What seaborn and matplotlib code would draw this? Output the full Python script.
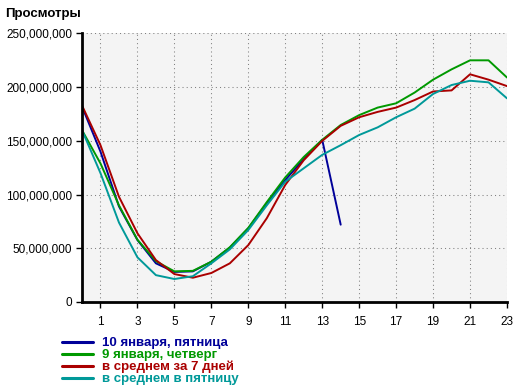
"""Hourly views chart: today vs yesterday vs averages."""

import matplotlib
matplotlib.use("Agg")
import matplotlib.pyplot as plt
import matplotlib.ticker as mticker
import numpy as np
import pandas as pd
import seaborn as sns

# values in millions of views, hour 0..23
hours = list(range(24))
jan10_fri = [182, 140, 89, 57.7, 36, 28, 28.5, 37.5, 50.6, 68.6, 92, 113.6,
             133, 151, 72]
jan9_thu = [160, 129, 90, 58, 38, 28.5, 29, 37.5, 51, 69, 93, 116, 135, 151,
            164.8, 174, 181, 185, 195, 207, 216.6, 225, 225, 209]
avg_7days = [183, 146, 98, 64, 39, 26, 22.6, 27, 36, 53, 78, 109, 132, 150,
             164, 172, 177, 181, 188, 196, 197, 212, 207, 201]
avg_friday = [160, 120, 74, 41.6, 25, 21.4, 24, 36, 49, 67, 90, 112, 124.5,
              137, 146, 155.5, 162.6, 172, 180, 193.7, 202, 206, 204.5, 189.6]

labels = ["10 января, пятница", "9 января, четверг",
          "в среднем за 7 дней", "в среднем в пятницу"]
colors = ["#000099", "#009900", "#aa0000", "#009999"]
x_ticks = list(range(1, 24, 2))
y_ticks = [0, 50e6, 100e6, 150e6, 200e6, 250e6]

frames = []
for name, vals in zip(labels, [jan10_fri, jan9_thu, avg_7days, avg_friday]):
    frames.append(pd.DataFrame({
        "hour": hours[:len(vals)],
        "views": np.array(vals) * 1e6,
        "series": name,
    }))
df = pd.concat(frames, ignore_index=True)

sns.set_style("white")
plt.rcParams["font.family"] = ["Liberation Sans", "DejaVu Sans"]
plt.rcParams["text.color"] = "black"
plt.rcParams["xtick.color"] = "black"
plt.rcParams["ytick.color"] = "black"

fig = plt.figure(figsize=(5.2, 3.92), dpi=100)
ax = fig.add_axes([0.1577, 0.2296, 0.8173, 0.685])
ax.set_facecolor("#f4f4f4")

sns.lineplot(data=df, x="hour", y="views", hue="series", hue_order=labels,
             palette=colors, linewidth=1.4, ax=ax, legend=True)

ax.set_xlim(0, 23)
ax.set_ylim(0, 250e6)
ax.set_xticks(x_ticks)
ax.set_yticks(y_ticks)
ax.yaxis.set_major_formatter(mticker.FuncFormatter(lambda v, _: f"{int(v):,}"))
ax.grid(True, color="#808080", linestyle=(0, (1, 3)), linewidth=0.75)
ax.set_xlabel("")
ax.set_ylabel("")

for side in ["top", "right"]:
    ax.spines[side].set_visible(False)
for side in ["left", "bottom"]:
    ax.spines[side].set_linewidth(2)
    ax.spines[side].set_color("black")
ax.tick_params(axis="both", direction="out", length=4, width=1, color="black",
               labelcolor="black", labelsize=8.5, pad=3, left=True, bottom=True)
ax.tick_params(axis="x", pad=6)

fig.text(0.01, 0.965, "Просмотры", fontsize=9.5, fontweight="bold",
         color="black", va="center", ha="left")

leg = ax.legend(loc="upper left", bbox_to_anchor=(0.107, 0.157),
                bbox_transform=fig.transFigure, frameon=False,
                handlelength=2.3, handletextpad=0.75, labelspacing=-0.02,
                borderpad=0, prop={"weight": "bold", "size": 9.5},
                labelcolor="linecolor")
for line in leg.get_lines():
    line.set_linewidth(2.2)

plt.savefig("out.png", dpi=100)
plt.close()
